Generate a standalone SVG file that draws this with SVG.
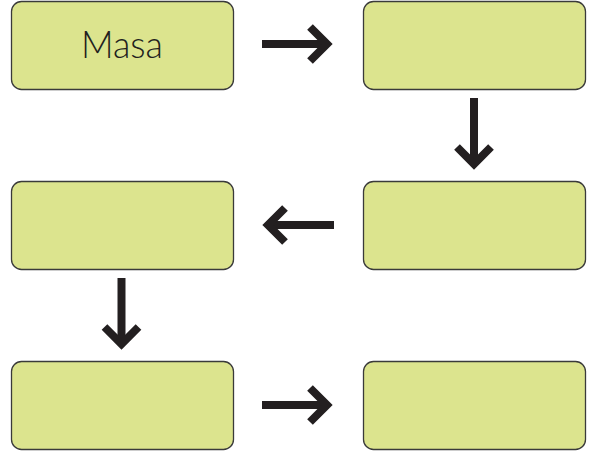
<svg xmlns="http://www.w3.org/2000/svg" width="602" height="456" viewBox="0 0 602 456">
<style>
.box{fill:#dce48e;stroke:#3a3a3a;stroke-width:1.3}
.arr{fill:none;stroke:#231f20;stroke-width:8;stroke-linecap:butt;stroke-linejoin:miter;stroke-miterlimit:4}
.lbl{font-family:Lato,"DejaVu Sans",sans-serif;font-weight:300;font-size:37px;fill:#231f20}
</style>
<rect width="602" height="456" fill="#ffffff"/>
<g id="n1"><rect class="box" x="11.5" y="1.5" width="222" height="88" rx="10"/><text class="lbl" x="122" y="58" text-anchor="middle" textLength="82" lengthAdjust="spacingAndGlyphs">Masa</text></g>
<g id="n2"><rect class="box" x="363.5" y="1.5" width="222" height="88" rx="10"/></g>
<g id="n3"><rect class="box" x="363.5" y="181.5" width="222" height="88" rx="10"/></g>
<g id="n4"><rect class="box" x="11.5" y="181.5" width="222" height="88" rx="10"/></g>
<g id="n5"><rect class="box" x="11.5" y="361.5" width="222" height="88" rx="10"/></g>
<g id="n6"><rect class="box" x="363.5" y="361.5" width="222" height="88" rx="10"/></g>
<g id="connectors">
<path class="arr" d="M262 44H326"/><path class="arr" d="M310 27L327 44L310 61"/>
<path class="arr" d="M474 98V163"/><path class="arr" d="M457 147L474 164L491 147"/>
<path class="arr" d="M334 225H269"/><path class="arr" d="M285 208L268 225L285 242"/>
<path class="arr" d="M121.5 278V343"/><path class="arr" d="M104.5 327L121.5 344L138.5 327"/>
<path class="arr" d="M262 405H326"/><path class="arr" d="M310 388L327 405L310 422"/>
</g>
</svg>
